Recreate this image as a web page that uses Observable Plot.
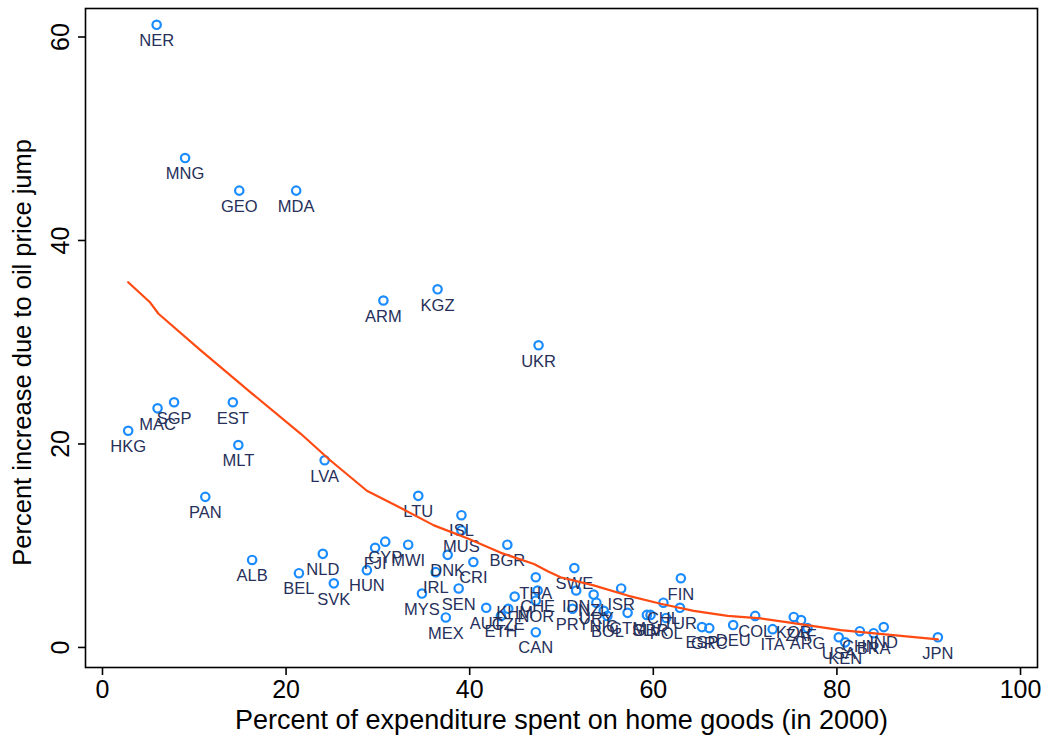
<!DOCTYPE html>
<html>
<head>
<meta charset="utf-8">
<script src="https://cdn.jsdelivr.net/npm/d3@7"></script>
<script src="https://cdn.jsdelivr.net/npm/@observablehq/plot@0.6"></script>
<style>
  html, body { margin: 0; padding: 0; background: #fff; }
  #chart svg { display: block; }
</style>
</head>
<body>
<div id="chart"></div>
<script>
// Country codes, home-goods share of expenditure (2000), and the % price increase from the oil shock
const countries = ["NER","MNG","GEO","MDA","ARM","KGZ","UKR","HKG","MAC","SGP","EST","MLT","PAN","LVA","LTU","ISL","MUS","BGR","MWI","CYP","FJI","HUN","NLD","BEL","SVK","ALB","DNK","CRI","IRL","MYS","SEN","MEX","AUT","ETH","CZE","KHM","THA","CHE","NOR","CAN","SWE","IDN","PRY","ISR","NZL","URY","NIC","BOL","GTM","SLV","GBR","FIN","TUR","CHL","POL","ESP","GRC","DEU","COL","ITA","KOR","ZAF","ARG","USA","KEN","CHN","BRA","IND","JPN"];
const homeShare = [5.9,9.0,14.9,21.1,30.6,36.5,47.5,2.8,6.0,7.8,14.2,14.8,11.2,24.2,34.4,39.1,39.1,44.1,33.3,30.8,29.7,28.8,24.0,21.4,25.2,16.3,37.6,40.4,36.3,34.8,38.8,37.4,41.8,43.4,44.2,44.9,47.2,47.4,47.2,47.2,51.4,51.6,51.2,56.5,53.5,53.8,54.6,55.0,57.2,59.3,59.7,63.0,62.9,61.1,61.4,65.3,66.1,68.7,71.1,73.0,75.3,76.1,76.8,80.2,80.9,82.5,84.0,85.1,91.0];
const priceIncrease = [61.2,48.1,44.9,44.9,34.1,35.2,29.7,21.3,23.5,24.1,24.1,19.9,14.8,18.4,14.9,13.0,11.5,10.1,10.1,10.4,9.8,7.6,9.2,7.3,6.3,8.6,9.1,8.4,7.4,5.3,5.8,2.95,3.9,3.1,3.8,5.0,6.9,5.6,4.6,1.5,7.8,5.6,3.8,5.8,5.2,4.4,3.6,3.1,3.4,3.2,3.2,6.8,3.9,4.4,2.9,2.0,1.9,2.2,3.1,1.8,3.0,2.7,1.9,1.0,0.5,1.6,1.4,2.0,1.0];

// Smoothed (lowess) fit through the scatter
const fitX = [2.8,5.2,6.1,10.7,16.1,21.6,24.8,28.8,32.5,36.1,39.8,43.4,47.0,48.5,49.9,53.5,57.2,60.8,64.4,68.1,71.7,76.0,80.4,91.0];
const fitY = [35.9,33.9,32.8,29.2,25.1,21.0,18.4,15.4,13.7,12.0,10.7,9.3,8.2,7.5,6.9,6.1,5.1,4.3,3.6,3.1,2.85,2.3,1.7,0.8];

const xTicks = [0,20,40,60,80,100];
const yTicks = [0,20,40,60];

const points = countries.map((c, i) => ({code: c, x: homeShare[i], y: priceIncrease[i]}));
const fit = fitX.map((x, i) => ({x, y: fitY[i]}));

const labelColor = "#26305a";
const dotColor = "#1a8cff";

const chart = Plot.plot({
  width: 1051,
  height: 743,
  marginLeft: 85,
  marginRight: 14,
  marginTop: 8,
  marginBottom: 76,
  style: {fontFamily: "'Liberation Sans', Arial, sans-serif", background: "#fff"},
  x: {domain: [-1.85, 101.85], axis: null},
  y: {domain: [-1.97, 62.8], axis: null},
  marks: [
    Plot.frame({stroke: "black", strokeWidth: 1.6}),
    Plot.axisX(xTicks, {anchor: "bottom", label: null, tickSize: 8, tickPadding: 5, fontSize: 25, stroke: "black", strokeWidth: 1.6, fill: "black"}),
    Plot.axisY(yTicks, {anchor: "left", label: null, tickSize: 7, tickFormat: () => "", stroke: "black", strokeWidth: 1.6}),
    Plot.text(yTicks, {y: d => d, text: d => String(d), frameAnchor: "left", dx: -25, rotate: -90, fontSize: 25, fill: "black", textAnchor: "middle", lineAnchor: "middle"}),
    Plot.text(["Percent increase due to oil price jump"], {y: 29, frameAnchor: "left", dx: -63, rotate: -90, fontSize: 25.5, fill: "black", textAnchor: "middle", lineAnchor: "middle"}),
    Plot.text(["Percent of expenditure spent on home goods (in 2000)"], {x: 50, frameAnchor: "bottom", dy: 53, fontSize: 27, fill: "black", textAnchor: "middle", lineAnchor: "middle"}),
    Plot.dot(points, {x: "x", y: "y", r: 4.2, stroke: dotColor, strokeWidth: 2.2, fill: "none"}),
    Plot.text(points, {x: "x", y: "y", text: "code", dy: 16, fontSize: 16.5, fill: labelColor, textAnchor: "middle", lineAnchor: "middle"}),
    Plot.line(fit, {x: "x", y: "y", stroke: "#ff4a12", strokeWidth: 2.2, curve: "linear"})
  ]
});
document.getElementById("chart").appendChild(chart);
</script>
</body>
</html>
